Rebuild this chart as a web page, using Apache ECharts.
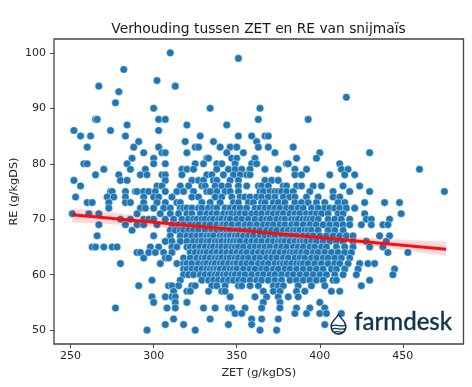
<!DOCTYPE html>
<html>
<head>
<meta charset="utf-8">
<title>Verhouding tussen ZET en RE van snijmaïs</title>
<script src="https://cdn.jsdelivr.net/npm/echarts@6/dist/echarts.min.js"></script>
<style>
  html, body { margin: 0; padding: 0; background: #fff; }
  #main { width: 472px; height: 387px; }
</style>
</head>
<body>
<div id="main"></div>
<script>
const reLevels = [100, 99, 97, 95, 94, 93, 92, 91, 90, 88, 87, 86, 85, 84, 83, 82, 81, 80, 79, 78, 77, 76, 75, 74, 73, 72, 71, 70, 69, 68, 67, 66, 65, 64, 63, 62, 61, 60, 59, 58, 57, 56, 55, 54, 53, 52, 51, 50];
const zetPerLevel = [
  [310],
  [351],
  [282],
  [302],
  [267, 313],
  [279],
  [416],
  [277],
  [300, 334, 364],
  [265, 266, 303, 307, 363, 393],
  [284, 320, 344],
  [252, 274, 303],
  [256, 262, 283, 328, 351, 359, 367, 369],
  [291, 319, 336, 362],
  [260, 288, 303, 325, 327, 340, 346, 350, 363, 369, 384],
  [294, 305, 307, 320, 344, 354, 373, 400, 430],
  [287, 300, 332, 333, 347, 350, 361, 386, 398],
  [258, 260, 284, 300, 307, 325, 330, 338, 341, 349, 359, 362, 380, 381, 412],
  [270, 286, 295, 317, 320, 324, 338, 345, 349, 353, 358, 367, 375, 385, 392, 413, 417, 460],
  [265, 279, 292, 296, 305, 307, 317, 332, 335, 342, 348, 352, 356, 358, 385, 389, 406, 415, 421],
  [252, 280, 284, 307, 323, 327, 330, 336, 338, 346, 351, 367, 371, 375],
  [256, 302, 305, 316, 321, 329, 331, 337, 341, 345, 351, 356, 363, 365, 369, 378, 380, 386, 389, 396, 401, 414, 424],
  [274, 275, 283, 289, 290, 294, 297, 301, 307, 314, 318, 324, 332, 334, 338, 343, 346, 351, 364, 366, 370, 373, 375, 377, 380, 384, 394, 408, 418, 430, 475],
  [253, 272, 276, 283, 294, 300, 303, 311, 323, 327, 337, 341, 347, 352, 355, 358, 362, 365, 369, 373, 378, 382, 385, 392, 399, 408, 412],
  [260, 263, 273, 283, 286, 294, 302, 307, 314, 316, 329, 334, 340, 348, 351, 357, 360, 365, 367, 372, 375, 379, 385, 389, 393, 398, 403, 411, 415, 427, 439, 448],
  [273, 292, 295, 300, 306, 310, 316, 318, 320, 323, 327, 329, 333, 336, 338, 343, 346, 349, 352, 356, 361, 364, 367, 370, 373, 376, 380, 383, 387, 390, 395, 399, 403, 406, 409, 412, 416, 421],
  [251, 261, 267, 290, 304, 310, 315, 320, 323, 328, 332, 335, 338, 342, 345, 347, 350, 352, 355, 359, 362, 365, 369, 372, 375, 378, 382, 385, 388, 392, 395, 398, 401, 405, 411, 414, 427, 449],
  [280, 286, 294, 297, 300, 307, 312, 317, 321, 324, 326, 329, 331, 334, 336, 339, 341, 344, 346, 350, 353, 357, 361, 365, 368, 370, 374, 377, 379, 383, 385, 387, 390, 392, 394, 396, 399, 405, 409, 413, 418, 428, 431, 442],
  [267, 283, 290, 294, 302, 311, 315, 318, 322, 325, 327, 331, 334, 338, 341, 342, 344, 347, 351, 355, 358, 362, 366, 369, 372, 376, 379, 383, 386, 390, 394, 398, 402, 406, 410, 414, 418, 425, 431, 438, 441],
  [287, 310, 313, 316, 318, 321, 324, 327, 331, 335, 338, 341, 344, 346, 350, 352, 355, 358, 361, 364, 368, 371, 374, 378, 381, 384, 386, 388, 391, 393, 395, 399, 405, 409, 414],
  [266, 300, 310, 316, 320, 323, 326, 329, 332, 334, 336, 340, 342, 344, 346, 349, 351, 354, 357, 360, 364, 367, 370, 373, 377, 380, 383, 386, 390, 393, 396, 400, 404, 408, 412, 416, 420, 436, 442],
  [307, 311, 316, 320, 324, 327, 329, 332, 334, 337, 339, 341, 344, 346, 348, 350, 352, 356, 359, 362, 365, 369, 372, 375, 377, 379, 382, 385, 388, 390, 392, 395, 398, 402, 406, 410, 414, 420, 428, 440],
  [263, 265, 270, 275, 278, 298, 303, 311, 314, 320, 322, 325, 328, 331, 334, 336, 339, 341, 344, 347, 349, 351, 354, 358, 361, 364, 367, 370, 374, 377, 380, 384, 387, 390, 394, 397, 401, 404, 410, 415, 420, 430, 438],
  [290, 292, 297, 301, 306, 311, 322, 325, 328, 330, 332, 335, 338, 341, 344, 347, 350, 353, 356, 360, 363, 366, 369, 371, 373, 376, 379, 382, 384, 386, 389, 392, 396, 399, 403, 407, 411, 415, 419, 441, 453],
  [294, 307, 309, 318, 322, 326, 329, 331, 334, 337, 339, 341, 344, 346, 349, 351, 354, 357, 361, 364, 368, 371, 374, 378, 381, 385, 388, 391, 395, 398, 402, 405, 409, 413, 418],
  [280, 304, 314, 318, 320, 323, 327, 330, 332, 335, 337, 340, 342, 345, 348, 350, 353, 356, 359, 363, 366, 369, 373, 376, 378, 380, 383, 386, 388, 390, 393, 397, 401, 405, 409, 412, 417, 424, 429, 433],
  [318, 320, 323, 326, 329, 332, 334, 336, 338, 340, 343, 346, 348, 350, 354, 358, 361, 365, 368, 372, 375, 379, 382, 386, 390, 394, 398, 402, 407, 410, 415, 423, 445],
  [318, 321, 324, 328, 331, 334, 337, 339, 342, 344, 347, 349, 352, 355, 359, 363, 366, 370, 373, 377, 381, 384, 388, 392, 396, 400, 404, 409, 414, 422, 444],
  [299, 316, 329, 333, 336, 339, 342, 345, 348, 351, 354, 358, 362, 365, 369, 373, 377, 382, 386, 390, 394, 398, 402, 408, 410, 430],
  [291, 309, 311, 315, 323, 325, 335, 338, 343, 351, 353, 358, 363, 372, 375, 378, 387, 395, 403, 425],
  [312, 320, 322, 333, 341, 343, 366, 372, 376, 386, 391, 407, 412],
  [299, 307, 311, 313, 346, 361, 368, 375, 381, 387],
  [300, 313, 320, 366, 376, 400],
  [277, 308, 313, 330, 337, 345, 347, 355, 365, 376, 386, 394, 403],
  [349, 353, 385, 392, 400, 404, 413],
  [312, 334, 359, 365, 375],
  [307, 318, 345, 359, 403],
  [296, 325, 364, 374]
];

// fitted line and its confidence band
const fitZet = [251, 476];
const fitRe = [70.8, 64.6];
const bandZet = [251, 275, 300, 325, 350, 375, 400, 425, 450, 476];
const bandHigh = [72.0, 71.2, 70.3, 69.3, 68.5, 67.8, 67.2, 66.7, 66.3, 65.9];
const bandLow = [69.4, 69.1, 68.6, 68.1, 67.6, 67.0, 66.2, 65.3, 64.4, 63.4];

const xTicks = [250, 300, 350, 400, 450];
const yTicks = [50, 60, 70, 80, 90, 100];

const points = [];
reLevels.forEach((re, i) => {
  zetPerLevel[i].forEach((zet) => points.push([zet, re]));
});

const upper = bandZet.map((zet, i) => [zet, bandHigh[i]]);
const lower = bandZet.map((zet, i) => [zet, bandLow[i]]).reverse();

const axisColor = "#444";
const textColor = "#262626";
const logoColor = "#0d3550";

const chart = echarts.init(document.getElementById("main"));
chart.setOption({
  animation: false,
  title: {
    text: "Verhouding tussen ZET en RE van snijmaïs",
    left: 253.5,
    top: 17,
    textAlign: "center",
    textStyle: {
      fontFamily: "DejaVu Sans",
      fontWeight: "normal",
      fontSize: 13.8,
      color: "#1a1a1a"
    }
  },
  grid: {
    left: 54,
    right: 8.5,
    top: 39,
    bottom: 43,
    outerBoundsMode: "none",
    show: true,
    borderColor: axisColor,
    borderWidth: 1.3
  },
  xAxis: {
    type: "value",
    min: 240,
    max: 486.5,
    name: "ZET (g/kgDS)",
    nameLocation: "center",
    nameGap: 24,
    nameTextStyle: { fontFamily: "DejaVu Sans", fontSize: 11.3, color: textColor },
    splitLine: { show: false },
    axisLine: { show: false },
    axisTick: { length: 4, customValues: xTicks, lineStyle: { color: axisColor } },
    axisLabel: {
      customValues: xTicks,
      margin: 7,
      fontFamily: "DejaVu Sans",
      fontSize: 11,
      color: textColor
    }
  },
  yAxis: {
    type: "value",
    min: 47.5,
    max: 102.5,
    name: "RE (g/kgDS)",
    nameLocation: "center",
    nameGap: 34,
    nameMoveOverlap: false,
    nameTextStyle: { fontFamily: "DejaVu Sans", fontSize: 11.3, color: textColor },
    splitLine: { show: false },
    axisLine: { show: false },
    axisTick: { length: 4, customValues: yTicks, lineStyle: { color: axisColor } },
    axisLabel: {
      customValues: yTicks,
      margin: 8,
      fontFamily: "DejaVu Sans",
      fontSize: 11,
      color: textColor
    }
  },
  series: [
    {
      type: "scatter",
      data: points,
      symbolSize: 7.6,
      itemStyle: {
        color: "#1f77b4",
        opacity: 1,
        borderColor: "rgba(255,255,255,0.75)",
        borderWidth: 0.6
      },
      z: 2
    },
    {
      type: "custom",
      z: 3,
      silent: true,
      data: [0],
      renderItem(params, api) {
        return {
          type: "polygon",
          shape: { points: upper.concat(lower).map((p) => api.coord(p)) },
          style: { fill: "rgba(255,0,0,0.15)" }
        };
      }
    },
    {
      type: "line",
      data: fitZet.map((zet, i) => [zet, fitRe[i]]),
      showSymbol: false,
      lineStyle: { color: "#fb0d0d", width: 3 },
      z: 4
    },
    // drop of the logo, bottom right
    {
      type: "custom",
      coordinateSystem: "none",
      z: 10,
      silent: true,
      data: [0],
      renderItem() {
        return {
          type: "path",
          shape: {
            pathData:
              "M10 0 C12 5 20 10 20 17 A10 10 0 0 1 0 17 C0 10 8 5 10 0 Z M10 3.5 C8 7 2 11 2 17 A8 8 0 0 0 18 17 C18 11 12 7 10 3.5 Z M2 15 C7 12 13 17 18 14 L18 15.5 C13 18.5 7 13.5 2 16.5 Z M2.5 19 C7 16 13 21 17.5 18 L17.5 19.5 C13 22.5 7 17.5 2.5 20.5 Z M4 23 C8 20.5 12 24 16 22 L15.5 23.5 C12 25.5 8 22 5 24.5 Z",
            x: 329,
            y: 313,
            width: 19,
            height: 22
          },
          style: { fill: logoColor }
        };
      }
    }
  ],
  graphic: [
    {
      type: "text",
      z: 10,
      left: 354,
      top: 310,
      style: {
        text: "farmdesk",
        fontFamily: "Lato",
        fontWeight: 500,
        fontSize: 24,
        fill: logoColor,
        stroke: logoColor,
        lineWidth: 0.3
      }
    }
  ]
});
</script>
</body>
</html>
